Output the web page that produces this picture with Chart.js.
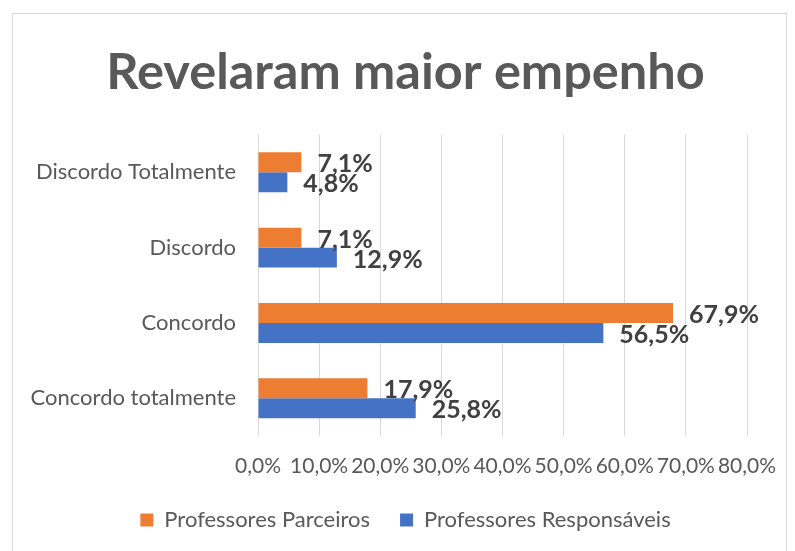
<!DOCTYPE html>
<html>
<head>
<meta charset="utf-8">
<script src="https://cdn.jsdelivr.net/npm/chart.js@4"></script>
<style>
  body { margin: 0; background: #fff; }
  #wrap { position: relative; width: 795px; height: 551px; }
  #frame { position: absolute; left: 12px; top: 13px; width: 773px; height: 560px;
           border: 1px solid #d9d9d9; pointer-events: none; }
</style>
</head>
<body>
<div id="wrap">
  <canvas id="chart" width="795" height="551"></canvas>
  <div id="frame"></div>
</div>
<script>
// Chart data
const categories = ['Discordo Totalmente', 'Discordo', 'Concordo', 'Concordo totalmente'];
const parceiros = [7.1, 7.1, 67.9, 17.9];
const responsaveis = [4.8, 12.9, 56.5, 25.8];
const xTicks = [0, 10, 20, 30, 40, 50, 60, 70, 80];

const FONT = 'Lato, "Open Sans", sans-serif';

function pct(v) {
    return v.toFixed(1).replace('.', ',') + '%';
}

// simple value labels at the end of each bar
const barLabels = {
    id: 'barLabels',
    afterDatasetsDraw(chart) {
        const ctx = chart.ctx;
        ctx.save();
        ctx.font = 'bold 25px ' + FONT;
        ctx.fillStyle = '#404040';
        ctx.textAlign = 'left';
        ctx.textBaseline = 'middle';
        chart.data.datasets.forEach((ds, i) => {
            chart.getDatasetMeta(i).data.forEach((bar, j) => {
                ctx.fillText(pct(ds.data[j]), bar.x + 16, bar.y + 2);
            });
        });
        ctx.restore();
    }
};

new Chart(document.getElementById('chart'), {
    type: 'bar',
    data: {
        labels: categories,
        datasets: [
            {
                label: 'Professores Parceiros',
                data: parceiros,
                backgroundColor: '#ED7D31',
                categoryPercentage: 0.53,
                barPercentage: 1.0
            },
            {
                label: 'Professores Responsáveis',
                data: responsaveis,
                backgroundColor: '#4472C4',
                categoryPercentage: 0.53,
                barPercentage: 1.0
            }
        ]
    },
    options: {
        indexAxis: 'y',
        responsive: false,
        animation: false,
        layout: { padding: { left: 16, right: 0, top: 0, bottom: 10 } },
        plugins: {
            title: {
                display: true,
                text: 'Revelaram maior empenho',
                color: '#595959',
                font: { family: FONT, size: 50.5, weight: 'bold' },
                padding: { top: 42, bottom: 32 }
            },
            legend: {
                position: 'bottom',
                labels: {
                    color: '#595959',
                    font: { family: FONT, size: 22 },
                    boxWidth: 13,
                    boxHeight: 13,
                    padding: 30
                }
            },
            tooltip: { enabled: false }
        },
        scales: {
            x: {
                min: 0,
                max: 80,
                afterBuildTicks: (scale) => { scale.ticks = xTicks.map(v => ({ value: v })); },
                afterFit: (scale) => { scale.height = 43; scale.paddingRight = 48; },
                grid: { color: '#d9d9d9', drawTicks: false },
                border: { display: false },
                ticks: {
                    color: '#595959',
                    font: { family: FONT, size: 21 },
                    padding: 18,
                    autoSkip: false,
                    maxRotation: 0,
                    minRotation: 0,
                    callback: (v) => pct(v)
                }
            },
            y: {
                afterFit: (scale) => { scale.width = 242; },
                grid: { display: false, drawTicks: false },
                border: { display: false },
                ticks: {
                    color: '#595959',
                    font: { family: FONT, size: 22 },
                    padding: 22
                }
            }
        }
    },
    plugins: [barLabels]
});
</script>
</body>
</html>
